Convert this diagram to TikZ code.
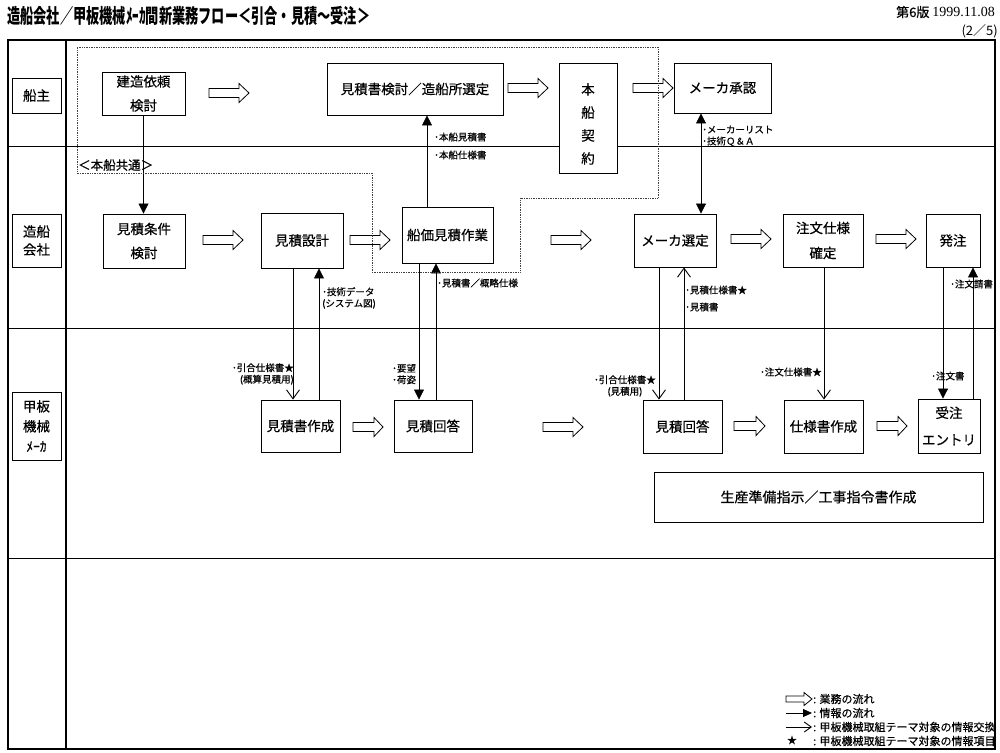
\documentclass[tikz,border=0pt]{standalone}
\usepackage{fontspec}
\setmainfont{Noto Sans CJK JP}
\newfontfamily\mfont{Noto Sans CJK JP}[FakeBold=0.5]
\newfontfamily\numfont{Liberation Serif}
\usetikzlibrary{arrows.meta}
\tikzset{
  box/.style={draw, fill=white, line width=0.9pt, inner sep=0pt, align=center, font=\mfont\fontsize{13.5}{16}\selectfont},
  boxtwo/.style={box, font=\mfont\fontsize{13.5}{24}\selectfont},
  lane/.style={draw, fill=white, line width=0.9pt, inner sep=0pt, align=center, minimum width=49pt},
  lbl/.style={inner sep=0pt, font=\mfont\fontsize{9.5}{11.5}\selectfont},
  info/.style={line width=0.8pt, -{Triangle[length=10pt,width=10pt]}},
  infob/.style={line width=0.8pt, {Triangle[length=10pt,width=10pt]}-{Triangle[length=10pt,width=10pt]}},
  xchg/.style={line width=0.8pt, -{Straight Barb[length=9pt,width=13pt,line width=0.9pt]}},
  pics/blk/.style n args={4}{code={\draw[fill=white,line width=0.8pt] (0,-#3) -- (#1-#2,-#3) -- (#1-#2,-#4) -- (#1,0) -- (#1-#2,#4) -- (#1-#2,#3) -- (0,#3) -- cycle;}},
  legtext/.style={anchor=west, inner sep=0pt, font=\mfont\fontsize{11}{12}\selectfont},
}
\begin{document}
\begin{tikzpicture}[x=1pt,y=-1pt]
\useasboundingbox (0,0) rectangle (1000,752);
% title
\node[anchor=west, inner sep=0pt] (title) at (7,16) {\scalebox{0.66}[1]{\fontsize{20}{22}\selectfont\bfseries 造船会社／甲板機械ﾒｰｶ間新業務フロー＜引合・見積～受注＞}};
\node[anchor=east, inner sep=0pt] (ver) at (995,12) {\mfont\fontsize{13}{14}\selectfont 第6版 {\numfont\fontsize{14}{14}\selectfont 1999.11.08}};
\node[anchor=east, inner sep=0pt] (page) at (998,31) {\fontsize{13}{14}\selectfont (2／5)};
% frame and lanes
\draw[line width=1.4pt] (8,40) rectangle (995,749);
\draw[line width=1.2pt] (66,40) -- (66,749);
\draw[line width=1pt] (8,146) -- (995,146);
\draw[line width=1pt] (8,328) -- (995,328);
\draw[line width=1pt] (8,558) -- (995,558);
% lane labels
\node[lane, minimum height=35pt, font=\mfont\fontsize{13.5}{16}\selectfont] (l1) at (36.5,95.5) {船主};
\node[lane, minimum height=53pt, font=\mfont\fontsize{13.5}{18}\selectfont] (l2) at (36.5,240.5) {造船\\会社};
\node[lane, minimum height=68pt, font=\mfont\fontsize{13.5}{20}\selectfont] (l3) at (36.5,426) {甲板\\機械\\ﾒｰｶ};
% connector x positions
\coordinate (cA) at (427,0);
\coordinate (cB) at (701,0);
\coordinate (cC) at (293,0);
\coordinate (cD) at (319,0);
\coordinate (cE) at (419,0);
\coordinate (cF) at (436,0);
\coordinate (cG) at (659,0);
\coordinate (cH) at (684,0);
\coordinate (cI) at (824,0);
\coordinate (cJ) at (943,0);
\coordinate (cK) at (973,0);
% boxes
\node[boxtwo, minimum width=83pt, minimum height=43pt] (kenzo) at (143.5,93.5) {建造依頼\\検討};
\node[box, minimum width=176pt, minimum height=52pt] (kentou) at (415,89) {見積書検討／造船所選定};
\node[box, minimum width=58pt, minimum height=110pt] (keiyaku) at (588,118) {};
\node[inner sep=0pt, align=center, font=\mfont\fontsize{13.5}{23}\selectfont] (keiyakutxt) at (588,124) {本\\船\\契\\約};
\node[box, minimum width=97pt, minimum height=50pt] (shonin) at (722.5,88) {メーカ承認};
\node[boxtwo, minimum width=82pt, minimum height=54pt] (joken) at (144,241) {見積条件\\検討};
\node[box, minimum width=82pt, minimum height=55pt] (sekkei) at (302,240.5) {見積設計};
\node[box, minimum width=91pt, minimum height=56pt] (senka) at (447.5,235) {船価見積作業};
\node[box, minimum width=82pt, minimum height=53pt] (sentei) at (675,240.5) {メーカ選定};
\node[boxtwo, minimum width=80pt, minimum height=53pt, font=\mfont\fontsize{13.5}{25}\selectfont] (chumon) at (823,240.5) {注文仕様\\確定};
\node[box, minimum width=54pt, minimum height=53pt] (hatchu) at (953,240.5) {発注};
\node[box, minimum width=79pt, minimum height=52pt] (sakusei) at (300.5,426) {見積書作成};
\node[box, minimum width=78pt, minimum height=52pt] (kaito1) at (433,426) {見積回答};
\node[box, minimum width=79pt, minimum height=53pt] (kaito2) at (682.5,426.5) {見積回答};
\node[box, minimum width=79pt, minimum height=53pt] (shiyosho) at (823.5,426.5) {仕様書作成};
\node[boxtwo, minimum width=62pt, minimum height=54pt, font=\mfont\fontsize{13.5}{27}\selectfont] (juchu) at (949,426) {受注\\エントリ};
\node[box, minimum width=329pt, minimum height=50pt, font=\mfont\fontsize{14}{16}\selectfont] (seisan) at (818.5,497) {生産準備指示／工事指令書作成};
% connectors
\draw[info] (kenzo.south) -- (kenzo.south |- joken.north);
\draw[info] (senka.north -| cA) -- (kentou.south -| cA);
\draw[infob] (shonin.south -| cB) -- (sentei.north -| cB);
\draw[xchg] (sekkei.south -| cC) -- (sakusei.north -| cC);
\draw[info] (sakusei.north -| cD) -- (sekkei.south -| cD);
\draw[info] (senka.south -| cE) -- (kaito1.north -| cE);
\draw[info] (kaito1.north -| cF) -- (senka.south -| cF);
\draw[xchg] (sentei.south -| cG) -- (kaito2.north -| cG);
\draw[xchg] (kaito2.north -| cH) -- (sentei.south -| cH);
\draw[xchg] (chumon.south -| cI) -- (shiyosho.north -| cI);
\draw[info] (hatchu.south -| cJ) -- (juchu.north -| cJ);
\draw[info] (juchu.north -| cK) -- (hatchu.south -| cK);
% business flow arrows
\pic at (209,93) {blk={40}{10}{4.5}{9.5}};
\pic at (508,88) {blk={40}{10}{4.5}{9.5}};
\pic at (633,88) {blk={40}{10}{4.5}{9.5}};
\pic at (203,240) {blk={40}{10}{4.5}{9.5}};
\pic at (350,240) {blk={40}{10}{4.5}{9.5}};
\pic at (551,240) {blk={40}{10}{4.5}{9.5}};
\pic at (731,239) {blk={40}{10}{4.5}{9.5}};
\pic at (876,239) {blk={40}{10}{4.5}{9.5}};
\pic at (353,427) {blk={30}{9}{4.5}{9.5}};
\pic at (543,427) {blk={40}{10}{4.5}{9.5}};
\pic at (734,426) {blk={31}{9}{4.5}{9.5}};
\pic at (877,426) {blk={30}{9}{4.5}{9.5}};
% common region
\draw[densely dotted, line width=0.7pt, black!75] (77,47) -- (658,47) -- (658,198) -- (520,198) -- (520,272) -- (372,272) -- (372,173) -- (77,173) -- cycle;
\node[anchor=west, inner sep=0pt, font=\mfont\fontsize{12.5}{14}\selectfont] (common) at (78,165) {＜本船共通＞};
% info labels
\node[lbl, anchor=west] (t1) at (434,137) {･本船見積書};
\node[lbl, anchor=west] (t2) at (434,155) {･本船仕様書};
\node[lbl, anchor=west, align=left] (t3) at (702,136) {･メーカーリスト\\･技術Ｑ＆Ａ};
\node[lbl, anchor=west, align=left] (t4) at (322,298) {･技術データ\\(システム図)};
\node[lbl, anchor=west] (t5) at (437,283) {･見積書／概略仕様};
\node[lbl, anchor=east, align=right] (t6) at (294,374) {･引合仕様書★\\(概算見積用)};
\node[lbl, anchor=west, align=left] (t7) at (392,374) {･要望\\･荷姿};
\node[lbl, anchor=west] (t8) at (685,290) {･見積仕様書★};
\node[lbl, anchor=west] (t9) at (685,307) {･見積書};
\node[lbl, anchor=east, align=center] (t10) at (656,386) {･引合仕様書★\\(見積用)};
\node[lbl, anchor=east] (t11) at (822,372) {･注文仕様書★};
\node[lbl, anchor=west] (t12) at (931,376) {･注文書};
\node[lbl, anchor=west] (t13) at (950,284) {･注文請書};
% legend
\pic at (786,699) {blk={26}{8}{3}{6.5}};
\coordinate (lg2a) at (786,713);
\coordinate (lg2b) at (812,713);
\draw[line width=0.8pt, -{Triangle[length=9pt,width=8pt]}] (lg2a) -- (lg2b);
\coordinate (lg3a) at (786,727);
\coordinate (lg3b) at (812,727);
\draw[line width=0.8pt, -{Straight Barb[length=7pt,width=10pt,line width=0.9pt]}] (lg3a) -- (lg3b);
\node[inner sep=0pt, font=\fontsize{10.5}{12}\selectfont] (star) at (792,741) {★};
\begin{scope}
\clip (0,0) rectangle (994,752);
\node[legtext] (g1) at (813,699) {: 業務の流れ};
\node[legtext] (g2) at (813,713) {: 情報の流れ};
\node[legtext] (g3) at (813,727) {: 甲板機械取組テーマ対象の情報交換};
\node[legtext] (g4) at (813,741) {: 甲板機械取組テーマ対象の情報項目};
\end{scope}
\end{tikzpicture}
\end{document}
